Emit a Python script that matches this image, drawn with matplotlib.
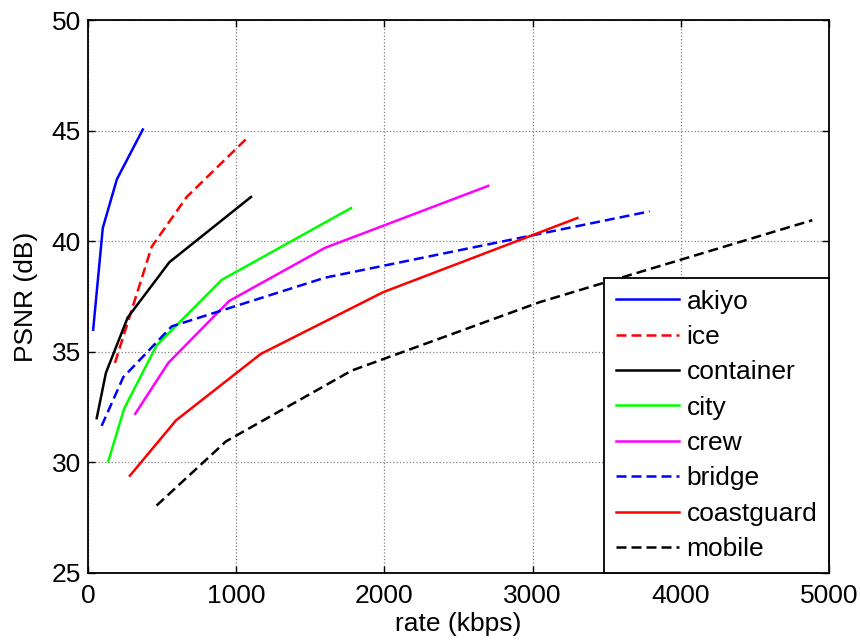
import matplotlib
matplotlib.use("Agg")
import matplotlib.pyplot as plt

plt.rcParams['font.family'] = ['Liberation Sans', 'DejaVu Sans']

akiyo_x = [35, 100, 195, 370]
akiyo_y = [36.0, 40.6, 42.8, 45.05]
ice_x = [182, 430, 666, 1064]
ice_y = [34.5, 39.75, 42.0, 44.6]
container_x = [59, 121, 268, 549, 1100]
container_y = [32.0, 34.05, 36.55, 39.05, 42.0]
city_x = [137, 245, 464, 902, 1775]
city_y = [30.05, 32.45, 35.3, 38.25, 41.5]
crew_x = [319, 542, 953, 1599, 2700]
crew_y = [32.2, 34.5, 37.3, 39.7, 42.5]
bridge_x = [92, 238, 565, 1599, 3790]
bridge_y = [31.65, 33.85, 36.15, 38.35, 41.35]
coast_x = [283, 594, 1165, 1993, 3302]
coast_y = [29.4, 31.9, 34.9, 37.7, 41.05]
mobile_x = [463, 931, 1779, 3050, 4887]
mobile_y = [28.05, 30.95, 34.15, 37.25, 40.95]

labels = ['akiyo', 'ice', 'container', 'city', 'crew', 'bridge', 'coastguard', 'mobile']
xticks = [0, 1000, 2000, 3000, 4000, 5000]
yticks = [25, 30, 35, 40, 45, 50]

fig = plt.figure(figsize=(8.6, 6.42), dpi=100)
ax = fig.add_axes([0.1023, 0.1075, 0.8617, 0.8613])

series = [
    (akiyo_x, akiyo_y, '#0000FF', '-'),
    (ice_x, ice_y, '#FF0000', '--'),
    (container_x, container_y, '#000000', '-'),
    (city_x, city_y, '#00FF00', '-'),
    (crew_x, crew_y, '#FF00FF', '-'),
    (bridge_x, bridge_y, '#0000FF', '--'),
    (coast_x, coast_y, '#FF0000', '-'),
    (mobile_x, mobile_y, '#000000', '--'),
]
for (xs, ys, c, ls), lab in zip(series, labels):
    line, = ax.plot(xs, ys, color=c, linestyle=ls, linewidth=1.8, label=lab)
    if ls == '--':
        line.set_dashes((4.0, 2.0))

ax.set_xlim(0, 5000)
ax.set_ylim(25, 50)
ax.set_xticks(xticks)
ax.set_yticks(yticks)
ax.tick_params(direction='in', top=True, right=True, labelsize=19, length=5, width=1)
ax.tick_params(axis='x', pad=8)
ax.tick_params(axis='y', pad=5)
ax.grid(True, color='#808080', linestyle=':', linewidth=0.9)
for sp in ax.spines.values():
    sp.set_linewidth(1.3)
ax.set_xlabel('rate (kbps)', fontsize=19, labelpad=3)
ax.set_ylabel('PSNR (dB)', fontsize=19, labelpad=10)

leg = ax.legend(loc='lower right', fontsize=19, borderaxespad=0, handlelength=2.4,
                handletextpad=0.27, labelspacing=0.43, borderpad=0.45, fancybox=False,
                framealpha=1, edgecolor='black')
leg.get_frame().set_linewidth(1.3)

fig.savefig('out.png', dpi=100)
